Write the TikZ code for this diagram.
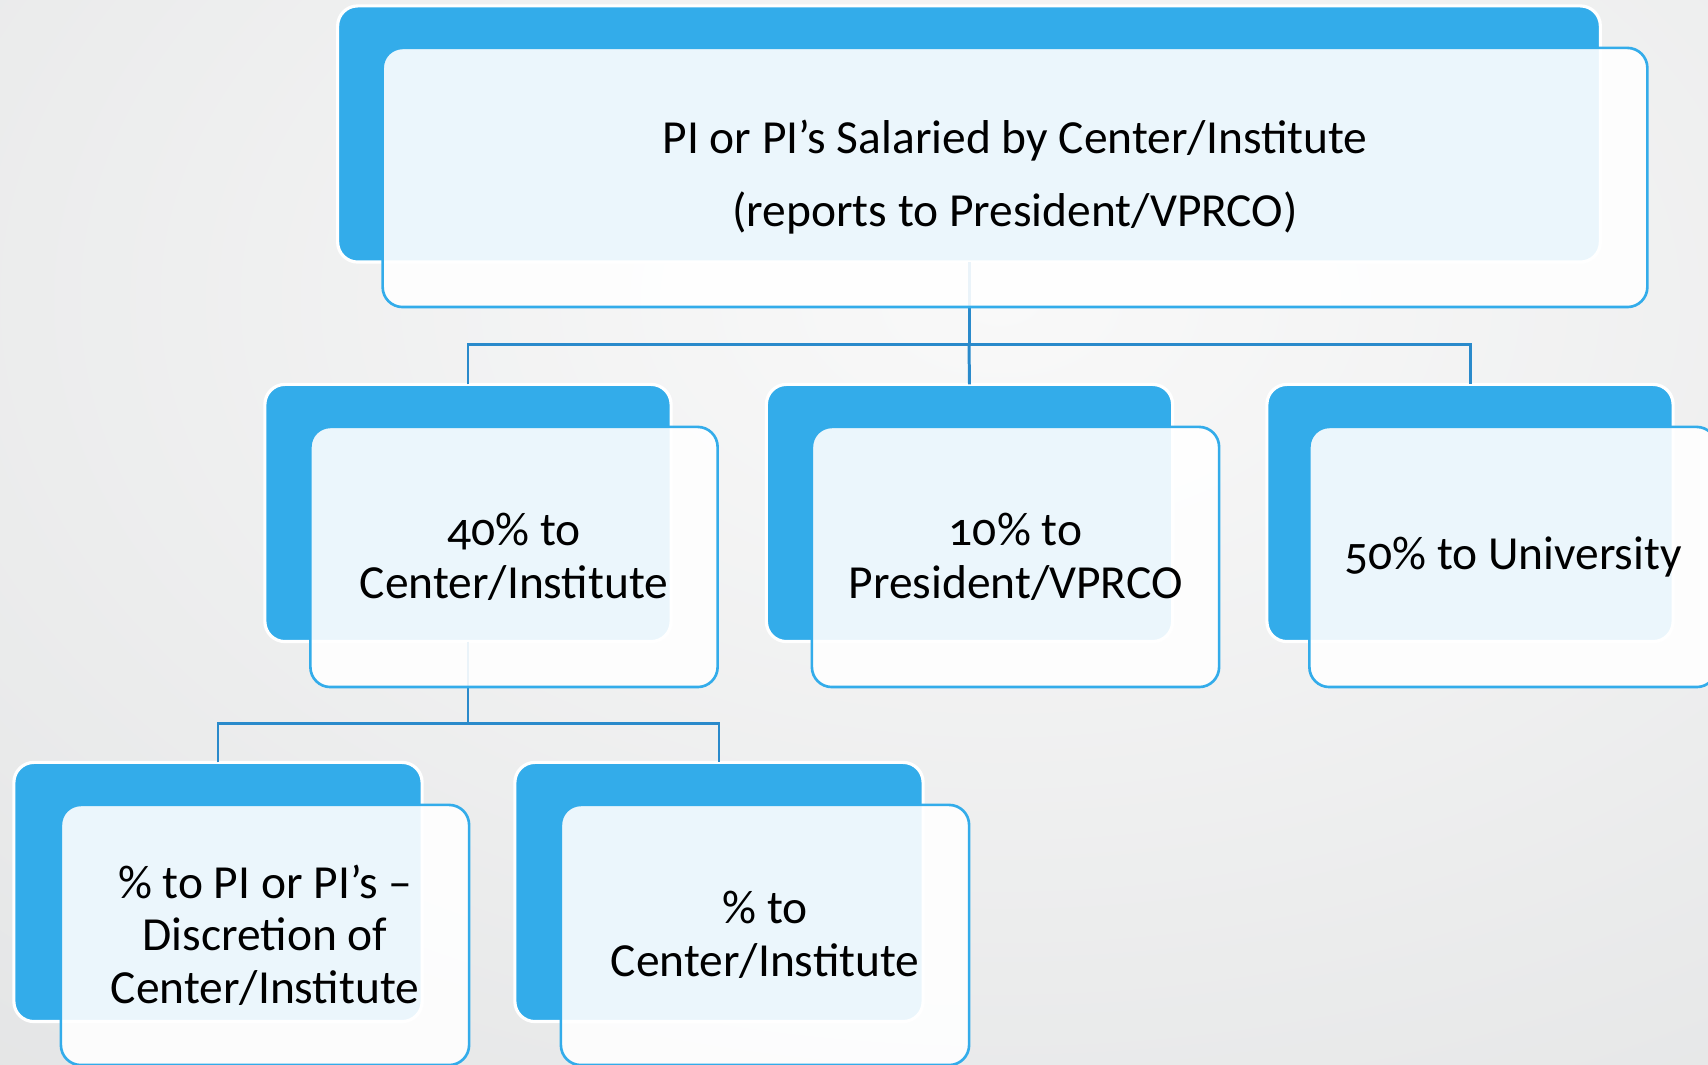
\documentclass[tikz,border=0pt]{standalone}
\usepackage{fontspec}
\setmainfont{Carlito}[Numbers=OldStyle]
\definecolor{boxblue}{HTML}{33ACEA}
\definecolor{linkblue}{HTML}{2A8ACB}
\definecolor{bgin}{HTML}{F9F9F9}
\definecolor{bgout}{HTML}{D4D6D7}
\pgfdeclareradialshading{backglow}{\pgfpoint{0bp}{0bp}}{color(0bp)=(bgin); color(50bp)=(bgout)}
\tikzset{
  backbox/.style={fill=boxblue, draw=white, line width=0.9pt, rounded corners=0.2cm,
    inner sep=0pt, outer sep=0pt},
  frontbox/.style={fill=white, fill opacity=0.9, text opacity=1, draw=boxblue,
    line width=0.75pt, rounded corners=0.2cm, inner sep=0pt, outer sep=0pt,
    align=center, font=\fontsize{13.5}{14.9}\selectfont},
  link/.style={draw=linkblue, line width=0.85pt}
}
\begin{document}
\begin{tikzpicture}[x=0.01cm, y=-0.01cm]
  \useasboundingbox (0,0) rectangle (1708,1065);
  \clip (0,0) rectangle (1708,1065);
  % background
  \shade[shading=backglow] (-400,-600) rectangle (2400,1200);

  %% blue back boxes
  % level 1
  \node[backbox, minimum width=12.62cm, minimum height=2.56cm] (top) at (969,134) {};
  % level 2
  \node[backbox, minimum width=4.06cm, minimum height=2.57cm] (cent) at (468,513) {};
  \node[backbox, minimum width=4.06cm, minimum height=2.57cm] (pres) at (969.5,513) {};
  \node[backbox, minimum width=4.06cm, minimum height=2.57cm] (univ) at (1470,513) {};
  % level 3
  \node[backbox, minimum width=4.08cm, minimum height=2.59cm] (pis) at (218,892) {};
  \node[backbox, minimum width=4.08cm, minimum height=2.59cm] (rest) at (719,892) {};

  %% connectors
  \coordinate (fork) at (969,345);
  \coordinate (forkb) at (468,724);
  \draw[link] (top.south) -- (fork);
  \draw[link] (cent.north) |- (fork) -| (univ.north);
  \draw[link] (fork) -- (pres.north);
  \draw[link] (cent.south) -- (forkb);
  \draw[link] (pis.north) |- (forkb) -| (rest.north);

  %% text boxes
  \node[frontbox, minimum width=12.64cm, minimum height=2.59cm] (topt) at (1015,177.5)
    {PI or PI’s Salaried by Center/Institute\\[5.8pt](reports to President/VPRCO)};
  \node[frontbox, minimum width=4.07cm, minimum height=2.6cm] (centt) at (514,557)
    {40\% to\\Center/Institute};
  \node[frontbox, minimum width=4.07cm, minimum height=2.6cm] (prest) at (1015.5,557)
    {10\% to\\President/VPRCO};
  \node[frontbox, minimum width=4.07cm, minimum height=2.6cm] (univt) at (1513,557)
    {50\% to University};
  \node[frontbox, minimum width=4.08cm, minimum height=2.6cm] (pist) at (265,935)
    {\% to PI or PI’s –\\Discretion of\\Center/Institute};
  \node[frontbox, minimum width=4.08cm, minimum height=2.6cm] (restt) at (765,935)
    {\% to\\Center/Institute};
\end{tikzpicture}
\end{document}
